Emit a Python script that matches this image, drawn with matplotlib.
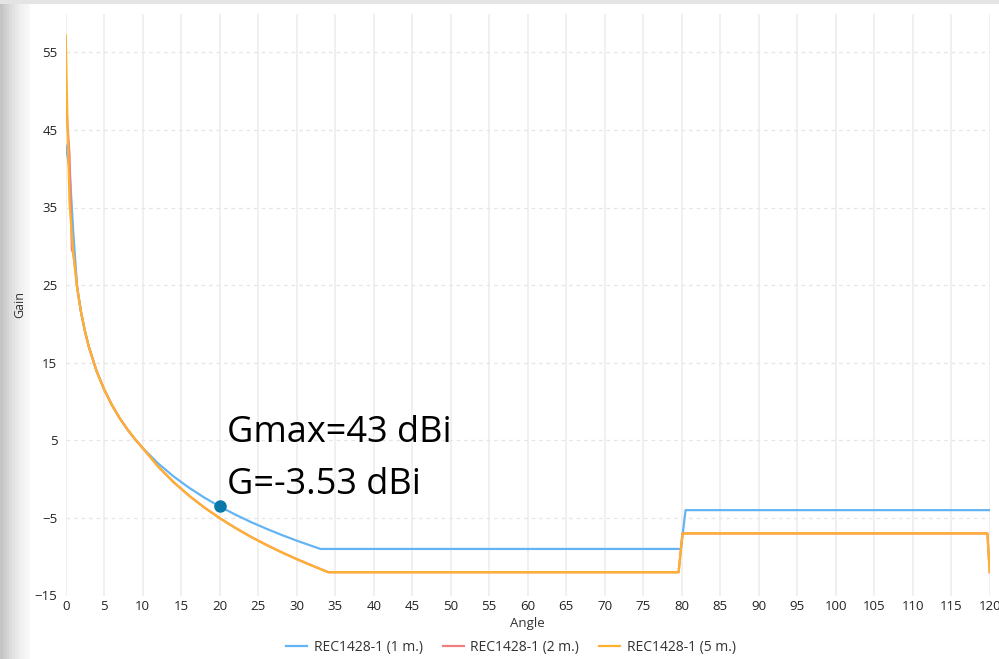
import matplotlib
matplotlib.use("Agg")
import matplotlib.pyplot as plt
from matplotlib.patches import Rectangle
from matplotlib.lines import Line2D

# ---- data ----
angle_1m = [0, 0.5, 1.0, 1.5, 2, 2.5, 3, 4, 5, 6, 7, 8, 9, 10, 12, 14, 16, 18, 20,
            22, 24, 26, 28, 30, 32, 33.1, 79.9, 80.5, 120]
gain_1m = [43.0, 40.0, 31.5, 24.6, 21.47, 19.05, 17.07, 13.95, 11.53, 9.55, 7.87, 6.42,
           5.14, 4.0, 2.02, 0.35, -1.10, -2.38, -3.53, -4.56, -5.51, -6.37, -7.18,
           -7.93, -8.63, -9.0, -9.0, -4.0, -4.0]

angle_2m = [0, 0.5, 0.8, 1.0, 1.5, 2, 2.5, 3, 4, 5, 6, 7, 8, 9, 10, 12, 14, 16, 18, 20,
            22, 24, 26, 28, 30, 32, 34.1, 79.6, 80.1, 119.7, 120]
gain_2m = [49.2, 41.7, 29.6, 29.0, 24.6, 21.47, 19.05, 17.07, 13.95, 11.53, 9.55, 7.87,
           6.42, 5.14, 4.0, 1.62, -0.38, -2.12, -3.66, -5.03, -6.27, -7.41, -8.45,
           -9.41, -10.31, -11.15, -12.0, -12.0, -7.0, -7.0, -12.0]

angle_5m = [0, 0.25, 0.5, 0.75, 1.0, 1.5, 2, 2.5, 3, 4, 5, 6, 7, 8, 9, 10, 12, 14, 16,
            18, 20, 22, 24, 26, 28, 30, 32, 34.1, 79.6, 80.1, 119.7, 120]
gain_5m = [57.2, 45.0, 35.6, 32.1, 29.0, 24.6, 21.47, 19.05, 17.07, 13.95, 11.53, 9.55,
           7.87, 6.42, 5.14, 4.0, 1.62, -0.38, -2.12, -3.66, -5.03, -6.27, -7.41,
           -8.45, -9.41, -10.31, -11.15, -12.0, -12.0, -7.0, -7.0, -12.0]

series_labels = ["REC1428-1 (1 m.)", "REC1428-1 (2 m.)", "REC1428-1 (5 m.)"]
marker_angle = [20]
marker_gain = [-3.53]
annot_lines = ["Gmax=43 dBi", "G=-3.53 dBi"]

x_ticks = list(range(0, 121, 5))
y_ticks = [-15, -5, 5, 15, 25, 35, 45, 55]

# ---- figure ----
plt.rcParams['font.family'] = ['Open Sans', 'DejaVu Sans']
W, H = 999, 659
fig = plt.figure(figsize=(W / 100, H / 100), dpi=100)

# window chrome: left gradient border and top band
for i, c in enumerate(['#c4c4c4', '#cccccc', '#d4d4d4', '#dcdcdc', '#e2e2e2',
                       '#e8e8e8', '#eeeeee', '#f2f2f2', '#f5f5f5', '#f8f8f8']):
    fig.add_artist(Rectangle((i * 3 / W, 0), 3 / W, 1, transform=fig.transFigure,
                             color=c, lw=0, zorder=0))
fig.add_artist(Rectangle((0, 1 - 4 / H), 1, 4 / H, transform=fig.transFigure,
                         color='#e4e4e4', lw=0, zorder=0))

ax = fig.add_axes([65.7 / W, 63.5 / H, (989.7 - 65.7) / W, (595.5 - 13.5) / H])
ax.set_xlim(0, 120)
ax.set_ylim(-15, 60)

for s in ax.spines.values():
    s.set_visible(False)

ax.set_xticks(x_ticks)
ax.set_yticks(y_ticks)
ax.tick_params(length=0, labelsize=9.5, labelcolor='#222222', pad=3)
ax.tick_params(axis='y', pad=6)

for xv in x_ticks:
    ax.axvline(xv, color='#f0f0f0', lw=1.4, zorder=0)
for yv in y_ticks:
    ax.axhline(yv, color='#e6e6e6', lw=0.9, ls=(0, (3, 3)), zorder=0)

c1, c2, c3 = '#64b4f4', '#f08080', '#ffb02e'
ax.plot(angle_1m, gain_1m, color=c1, lw=1.6, zorder=3)
ax.plot(angle_2m, gain_2m, color=c2, lw=1.6, zorder=4)
ax.plot(angle_5m, gain_5m, color=c3, lw=1.6, zorder=5)
ax.plot(marker_angle, marker_gain, 'o', color='#0a78aa', ms=8, zorder=6)

ax.text(21.0, 6.0, annot_lines[0], fontsize=26, color='black', va='center', ha='left')
ax.text(21.0, -0.7, annot_lines[1], fontsize=26, color='black', va='center', ha='left')

ax.set_xlabel('Angle', fontsize=9.5, color='#333333', labelpad=3)
ax.set_ylabel('Gain', fontsize=9, color='#333333', labelpad=6)

handles = [Line2D([], [], color=c, lw=1.6) for c in (c1, c2, c3)]
fig.legend(handles, series_labels, loc='center', bbox_to_anchor=(511 / W, 1 - 647 / H),
           ncol=3, frameon=False, fontsize=10, handlelength=1.5, handletextpad=0.5,
           columnspacing=1.4, labelcolor='#333333')

fig.savefig('out.png', dpi=100)
